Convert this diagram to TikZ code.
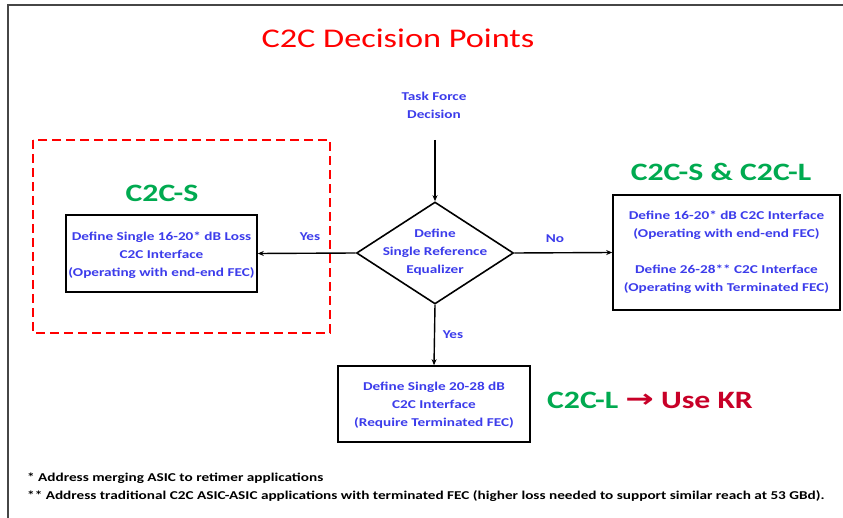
\documentclass[tikz,border=0pt]{standalone}
\usepackage{fontspec}
\usepackage{graphicx}
\setmainfont{Carlito}[FakeStretch=1.27]
\newfontfamily\symfont{DejaVu Sans}
\usetikzlibrary{arrows.meta,shapes.geometric}
\definecolor{tblue}{RGB}{60,60,235}
\definecolor{tgreen}{RGB}{0,170,80}
\definecolor{tred}{RGB}{255,0,0}
\definecolor{kred}{RGB}{200,0,40}
\definecolor{frame}{RGB}{70,70,70}
\begin{document}
\begin{tikzpicture}[x=1pt,y=-1pt,
  box/.style={draw, line width=1.6pt, fill=white, inner sep=0pt},
  btext/.style={text=tblue, font=\bfseries\fontsize{12}{18}\selectfont, align=center},
  conn/.style={line width=1.4pt, -{Stealth[length=6pt,width=5pt]}},
  lbl/.style={text=tblue, font=\bfseries\fontsize{12}{14}\selectfont},
  grn/.style={text=tgreen, font=\bfseries\fontsize{25}{28}\selectfont},
  note/.style={font=\bfseries\fontsize{12}{14}\selectfont, anchor=west, inner sep=0pt}]
\useasboundingbox (0,0) rectangle (843,518);
\fill[white] (0,0) rectangle (843,518);
\draw[line width=2pt, frame] (8,518) -- (8,5) -- (843,5);

\node[text=tred, font=\fontsize{27}{32}\selectfont] (title) at (398,38) {C2C Decision Points};

\node[btext] (tf) at (434,105) {Task Force\\Decision};
\coordinate (ts) at (435,140);

\node[diamond, draw, line width=1.6pt, minimum width=157pt, minimum height=102pt, inner sep=0pt] (d) at (435,253) {};
\node[btext] (dt) at (435,252) {Define\\Single Reference\\Equalizer};

\node[box, minimum width=191pt, minimum height=77pt] (lb) at (161.5,253.5) {};
\node[btext] (lbt) at (161.5,255) {Define Single 16-20* dB Loss\\C2C Interface\\(Operating with end-end FEC)};

\node[box, minimum width=227pt, minimum height=115pt] (rb) at (726.5,252.5) {};
\node[btext] (rbt) at (726.5,252) {Define 16-20* dB C2C Interface\\(Operating with end-end FEC)\\[18pt]Define 26-28** C2C Interface\\(Operating with Terminated FEC)};

\node[box, minimum width=192pt, minimum height=76pt] (bb) at (434,404) {};
\node[btext] (bbt) at (434,405) {Define Single 20-28 dB\\C2C Interface\\(Require Terminated FEC)};

\draw[conn] (ts) -- (d.north);
\draw[conn] (d.west) -- (lb.east);
\draw[conn] (d.east) -- (rb.west);
\draw[conn] (d.south) -- (bb.north);

\node[lbl] (y1) at (310,237) {Yes};
\node[lbl] (n1) at (555,239) {No};
\node[lbl] (y2) at (453,335) {Yes};

\draw[tred, line width=2.6pt, dash pattern=on 9pt off 5pt] (33,140) rectangle (330,333);

\node[grn] (cs) at (162,193) {C2C-S};
\node[grn] (csl) at (721,172) {C2C-S \& C2C-L};
\node[font=\bfseries\fontsize{25}{28}\selectfont] (kr) at (650,400) {\textcolor{tgreen}{C2C-L} \textcolor{kred}{\raisebox{1pt}{\scalebox{1.7}[1.25]{\symfont\bfseries\fontsize{20}{24}\selectfont →}}} \textcolor{kred}{Use KR}};

\node[note] (f1) at (27,478) {* Address merging ASIC to retimer applications};
\node[note] (f2) at (27,496) {** Address traditional C2C ASIC-ASIC applications with terminated FEC (higher loss needed to support similar reach at 53 GBd).};
\end{tikzpicture}
\end{document}
